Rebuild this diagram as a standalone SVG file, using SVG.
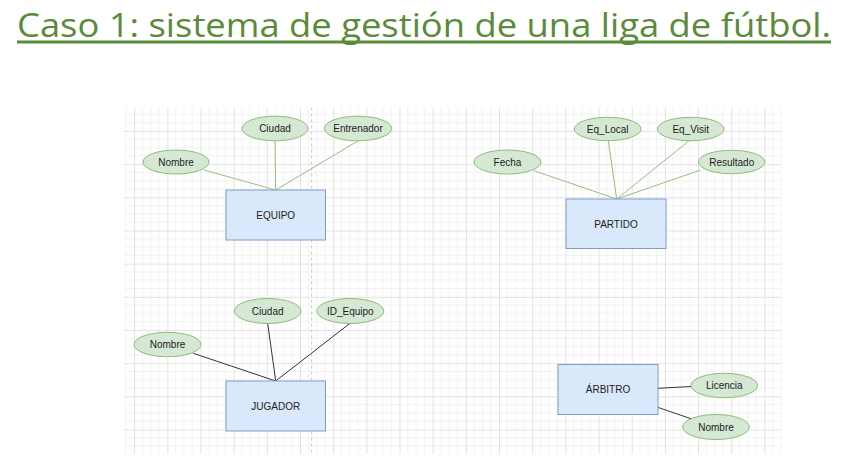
<svg xmlns="http://www.w3.org/2000/svg" width="859" height="462" viewBox="0 0 859 462">
<style>
.title{font-family:"Open Sans","Noto Sans",sans-serif;font-size:33px;fill:#5a8a3a}
.lbl{font-family:"Liberation Sans",Arial,sans-serif;font-size:10px;fill:#222;text-anchor:middle;dominant-baseline:central}
.ent{fill:#dae8fc;stroke:#7d9cc9;stroke-width:1}
.att{fill:#d5e8d4;stroke:#8fbb77;stroke-width:1}
.lg{stroke:#93c07c;stroke-width:1;fill:none}
.ld{stroke:#333;stroke-width:1;fill:none}
</style>
<defs>
<pattern id="grid" patternUnits="userSpaceOnUse" x="101" y="97.8" width="33.17" height="33.17">
<path d="M8.29 0V33.17M16.58 0V33.17M24.88 0V33.17M0 8.29H33.17M0 16.58H33.17M0 24.88H33.17" stroke="#f2f2f2" stroke-width="1"/>
<path d="M0.5 0V33.17M0 0.5H33.17" stroke="#e2e2e2" stroke-width="1"/>
</pattern>
</defs>
<rect width="859" height="462" fill="#fff"/>
<text class="title" x="17" y="36.7" textLength="814" lengthAdjust="spacingAndGlyphs">Caso 1: sistema de gestión de una liga de fútbol.</text>
<rect x="17" y="40.5" width="814" height="3" fill="#5a8a3a"/>
<rect x="124" y="107.5" width="657.5" height="346.5" fill="url(#grid)"/>
<line x1="311.7" y1="107.5" x2="311.7" y2="454" stroke="#c4c4c4" stroke-width="1" stroke-dasharray="3,3"/>
<g id="connectors">
<line class="lg" x1="204" y1="170" x2="275.7" y2="190"/>
<line class="lg" x1="275" y1="140.7" x2="275.7" y2="190"/>
<line class="lg" x1="358.3" y1="140.7" x2="275.7" y2="190"/>
<line class="lg" x1="534" y1="170.7" x2="616.7" y2="199"/>
<line class="lg" x1="608.3" y1="140.7" x2="616.7" y2="199"/>
<line class="lg" x1="690" y1="140" x2="616.7" y2="199"/>
<line class="lg" x1="700.7" y1="170" x2="616.7" y2="199"/>
<line class="ld" x1="193.3" y1="353.3" x2="275.7" y2="381"/>
<line class="ld" x1="267.7" y1="323.3" x2="275.7" y2="381"/>
<line class="ld" x1="350" y1="323.3" x2="275.7" y2="381"/>
<line class="ld" x1="657.7" y1="388.3" x2="691.5" y2="386.5"/>
<line class="ld" x1="657.7" y1="407.3" x2="692.7" y2="419.3"/>
</g>
<g id="equipo"><rect class="ent" x="226" y="190" width="99.5" height="50"/><text class="lbl" x="275.7" y="215">EQUIPO</text></g>
<g id="equipo-nombre"><ellipse class="att" cx="176" cy="162" rx="33" ry="12"/><text class="lbl" x="176" y="162">Nombre</text></g>
<g id="equipo-ciudad"><ellipse class="att" cx="275" cy="128.5" rx="33" ry="12.3"/><text class="lbl" x="275" y="128.5">Ciudad</text></g>
<g id="equipo-entrenador"><ellipse class="att" cx="358" cy="128.5" rx="33.7" ry="12.3"/><text class="lbl" x="358" y="128.5">Entrenador</text></g>
<g id="partido"><rect class="ent" x="566" y="199" width="100" height="49.5"/><text class="lbl" x="616" y="224">PARTIDO</text></g>
<g id="partido-fecha"><ellipse class="att" cx="507.5" cy="162" rx="33.5" ry="12"/><text class="lbl" x="507.5" y="162">Fecha</text></g>
<g id="partido-eqlocal"><ellipse class="att" cx="607.7" cy="129" rx="33.3" ry="11.7"/><text class="lbl" x="607.7" y="129">Eq_Local</text></g>
<g id="partido-eqvisit"><ellipse class="att" cx="690.7" cy="129" rx="33.3" ry="11.7"/><text class="lbl" x="690.7" y="129">Eq_Visit</text></g>
<g id="partido-resultado"><ellipse class="att" cx="731.7" cy="162" rx="33.3" ry="11.7"/><text class="lbl" x="731.7" y="162">Resultado</text></g>
<g id="jugador"><rect class="ent" x="226" y="381" width="99.5" height="50"/><text class="lbl" x="275.7" y="406">JUGADOR</text></g>
<g id="jugador-nombre"><ellipse class="att" cx="167.5" cy="344.5" rx="33.5" ry="12.2"/><text class="lbl" x="167.5" y="344.5">Nombre</text></g>
<g id="jugador-ciudad"><ellipse class="att" cx="267.7" cy="311" rx="33.3" ry="12.5"/><text class="lbl" x="267.7" y="311">Ciudad</text></g>
<g id="jugador-idequipo"><ellipse class="att" cx="350.3" cy="311" rx="33.5" ry="12.5"/><text class="lbl" x="350.3" y="311">ID_Equipo</text></g>
<g id="arbitro"><rect class="ent" x="558" y="364.5" width="100" height="50"/><text class="lbl" x="608" y="389.5">ÁRBITRO</text></g>
<g id="arbitro-licencia"><ellipse class="att" cx="724.3" cy="385.5" rx="33.3" ry="12.2"/><text class="lbl" x="724.3" y="385.5">Licencia</text></g>
<g id="arbitro-nombre"><ellipse class="att" cx="716" cy="427" rx="33.3" ry="12.5"/><text class="lbl" x="716" y="427">Nombre</text></g>
</svg>
